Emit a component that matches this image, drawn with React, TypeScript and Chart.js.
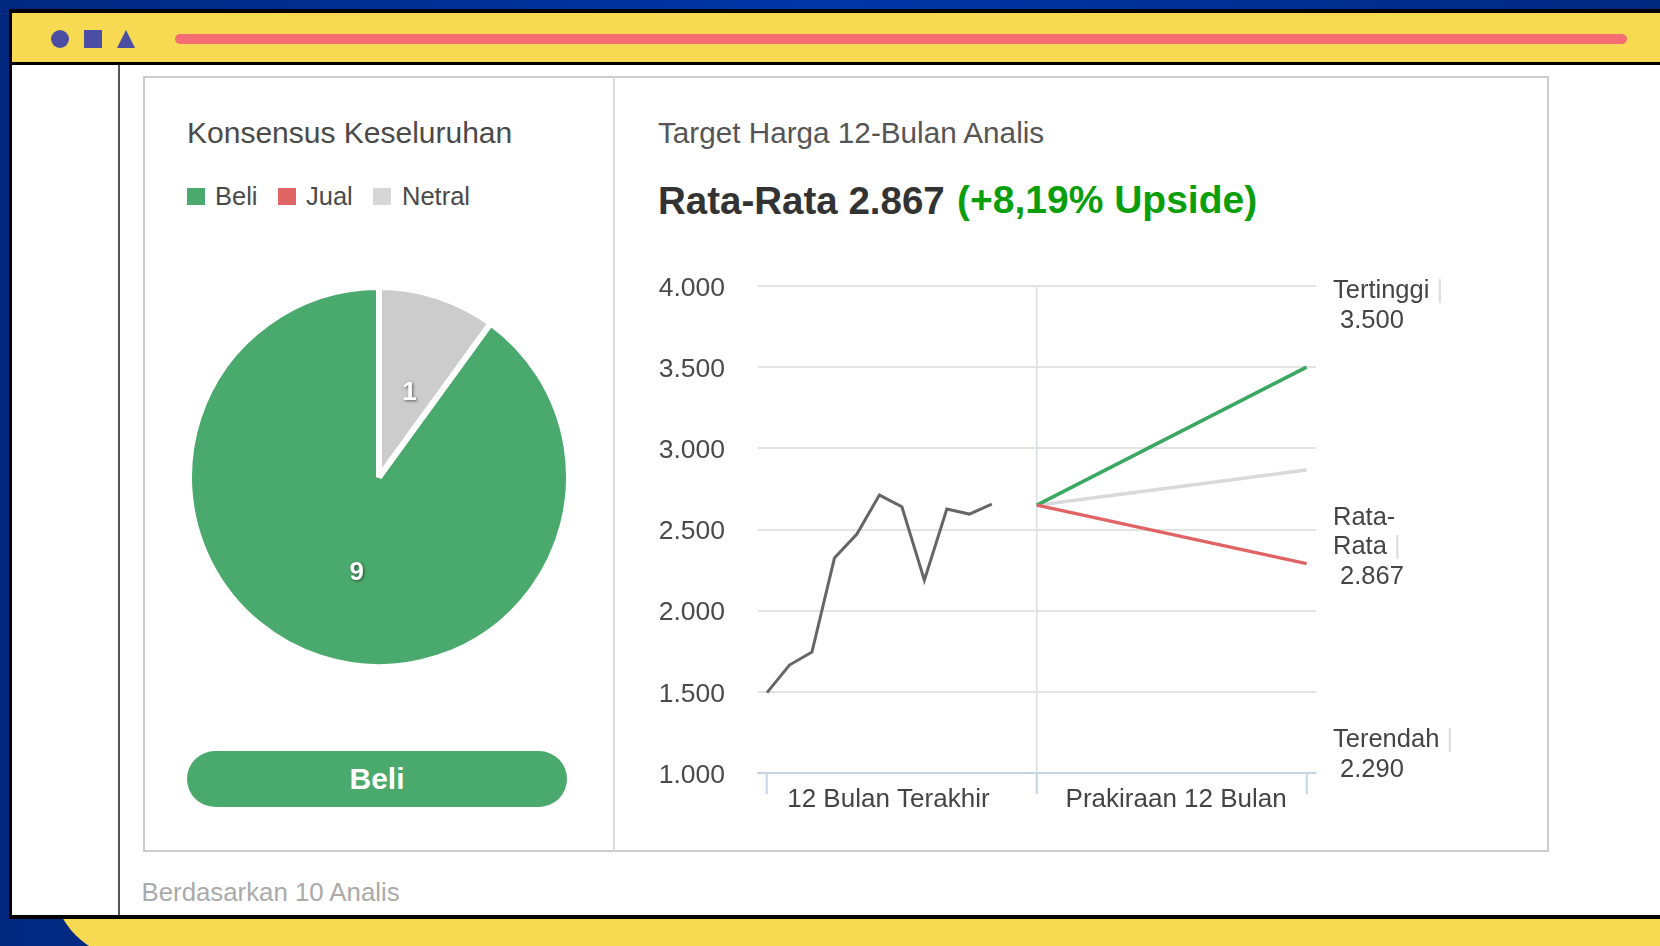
import React, { useEffect, useRef } from "react";
import { Chart, registerables } from "chart.js";

Chart.register(...registerables);

const FONT = '"Liberation Sans", Arial, sans-serif';

// ---- data ----
const consensusCategories = ["Beli", "Jual", "Netral"];
const consensusValues = [9, 0, 1];
const consensusColors = ["#4aa96c", "#e06666", "#cccccc"];

const historyValues = [1495, 1665, 1745, 2324, 2472, 2712, 2640, 2188, 2626, 2595, 2656];
const forecastMonths = [12, 24];
const forecastStart = 2650;
const targetHigh = 3500;
const targetAverage = 2867;
const targetLow = 2290;

const yTicks = [1000, 1500, 2000, 2500, 3000, 3500, 4000];
const xBoundaryTicks = [0, 12, 24];
const periodLabels = ["12 Bulan Terakhir", "Prakiraan 12 Bulan"];
const periodLabelAt = [5.4, 18.2];

const formatId = (v: number) => String(v).replace(/\B(?=(\d{3})+$)/g, ".");

// ---- placement of the surrounding page ----
const abs = (left: number, top: number, extra: any = {}): any => ({
  position: "absolute",
  left,
  top,
  ...extra,
});
const txt = (left: number, cy: number, size: number, color: string, extra: any = {}): any => ({
  position: "absolute",
  left,
  top: cy - size,
  height: size * 2,
  lineHeight: `${size * 2}px`,
  fontSize: size,
  color,
  fontFamily: FONT,
  whiteSpace: "pre",
  ...extra,
});

const legendPlacement = [
  { box: 187, text: 215 },
  { box: 278, text: 306 },
  { box: 373, text: 402 },
];

const pieLabelNudge = [
  [7, 5],
  [0, 0],
  [1, 6],
];

const pieValueLabels = {
  id: "pieValueLabels",
  afterDatasetsDraw(chart: any) {
    const { ctx } = chart;
    const meta = chart.getDatasetMeta(0);
    ctx.save();
    ctx.font = `bold 26px ${FONT}`;
    ctx.textAlign = "center";
    ctx.textBaseline = "middle";
    ctx.fillStyle = "#ffffff";
    ctx.shadowColor = "rgba(0,0,0,0.55)";
    ctx.shadowBlur = 3;
    ctx.shadowOffsetX = 1;
    ctx.shadowOffsetY = 1;
    meta.data.forEach((arc: any, i: number) => {
      const v = consensusValues[i];
      if (!v) return;
      const p = arc.tooltipPosition();
      ctx.fillText(String(v), p.x + pieLabelNudge[i][0], p.y + pieLabelNudge[i][1]);
    });
    ctx.restore();
  },
};

export default function App() {
  const pieRef = useRef<HTMLCanvasElement>(null);
  const lineRef = useRef<HTMLCanvasElement>(null);

  useEffect(() => {
    const pie = new Chart(pieRef.current!, {
      type: "pie",
      data: {
        labels: consensusCategories,
        datasets: [
          {
            data: consensusValues,
            backgroundColor: consensusColors,
            borderColor: "#ffffff",
            borderWidth: 6,
            hoverOffset: 0,
          },
        ],
      },
      options: {
        animation: false,
        responsive: false,
        rotation: 36,
        radius: 190,
        layout: { padding: 0 },
        plugins: { legend: { display: false }, tooltip: { enabled: false } },
      },
      plugins: [pieValueLabels],
    } as any);

    const xy = (xs: number[], ys: number[]) => xs.map((x, i) => ({ x, y: ys[i] }));
    const line = new Chart(lineRef.current!, {
      type: "line",
      data: {
        datasets: [
          {
            label: "Harga",
            data: historyValues.map((y, x) => ({ x, y })),
            borderColor: "#666666",
            borderWidth: 3,
            order: 1,
          },
          {
            label: "Tertinggi",
            data: xy(forecastMonths, [forecastStart, targetHigh]),
            borderColor: "#3aa860",
            borderWidth: 3.5,
            order: 2,
          },
          {
            label: "Terendah",
            data: xy(forecastMonths, [forecastStart, targetLow]),
            borderColor: "#e06464",
            borderWidth: 3.5,
            order: 1,
          },
          {
            label: "Rata-Rata",
            data: xy(forecastMonths, [forecastStart, targetAverage]),
            borderColor: "#d9d9d9",
            borderWidth: 3.5,
            order: 3,
          },
        ],
      },
      options: {
        animation: false,
        responsive: false,
        layout: { padding: { top: 26, right: 24, left: 0, bottom: 0 } },
        elements: { point: { radius: 0 }, line: { tension: 0 } },
        plugins: { legend: { display: false }, tooltip: { enabled: false } },
        scales: {
          x: {
            type: "linear",
            min: -0.4,
            max: 24.42,
            afterFit: (s: any) => {
              s.height = 47;
            },
            afterBuildTicks: (s: any) => {
              s.ticks = [...xBoundaryTicks, ...periodLabelAt]
                .sort((a, b) => a - b)
                .map((value) => ({ value }));
            },
            border: { color: "#c5d5e6", width: 2 },
            grid: {
              tickLength: 21,
              tickWidth: 2,
              lineWidth: 1.5,
              color: (c: any) => (c.tick && c.tick.value === 12 ? "#d8dde2" : "rgba(0,0,0,0)"),
              tickColor: (c: any) =>
                c.tick && xBoundaryTicks.includes(c.tick.value) ? "#c5d5e6" : "rgba(0,0,0,0)",
            },
            ticks: {
              autoSkip: false,
              maxRotation: 0,
              minRotation: 0,
              padding: -10,
              color: "#444444",
              font: { family: FONT, size: 26 },
              callback: (v: number) => {
                const i = periodLabelAt.indexOf(v);
                return i >= 0 ? periodLabels[i] : "";
              },
            },
          },
          y: {
            type: "linear",
            min: 1000,
            max: 4000,
            afterFit: (s: any) => {
              s.width = 118;
            },
            afterBuildTicks: (s: any) => {
              s.ticks = yTicks.map((value) => ({ value }));
            },
            border: { display: false },
            grid: {
              drawTicks: true,
              tickLength: 30,
              tickColor: "rgba(0,0,0,0)",
              lineWidth: 2,
              color: (c: any) => (c.tick && c.tick.value === 1000 ? "rgba(0,0,0,0)" : "#e3e3e3"),
            },
            ticks: {
              padding: 3,
              labelOffset: 2.5,
              color: "#4a4a4a",
              font: { family: FONT, size: 26.5 },
              callback: (v: number) => formatId(v),
            },
          },
        },
      },
    } as any);

    return () => {
      pie.destroy();
      line.destroy();
    };
  }, []);

  const sideLabels = [
    { name: ["Tertinggi"], value: targetHigh, nameY: [289], valueY: 319 },
    { name: ["Rata-", "Rata"], value: targetAverage, nameY: [516, 545], valueY: 575 },
    { name: ["Terendah"], value: targetLow, nameY: [738], valueY: 768 },
  ];

  return (
    <div
      style={{
        position: "fixed",
        left: 0,
        top: 0,
        width: 1660,
        height: 946,
        overflow: "hidden",
        background: "linear-gradient(90deg,#00287f 0%,#0036a8 50%,#00287f 100%)",
      }}
    >
      <div style={abs(0, 0, { width: 1660, height: 946, filter: "blur(0.6px)" })}>
        {/* bottom yellow shape */}
        <div
          style={abs(52.5, 800, {
            width: 1700,
            height: 157.5,
            background: "#f8da52",
            borderBottomLeftRadius: 77.5,
          })}
        />
        {/* window */}
        <div style={abs(9, 9, { width: 1700, height: 910, background: "#000" })} />
        <div style={abs(12, 13, { width: 1700, height: 49, background: "#f8da52" })} />
        <div style={abs(12, 65, { width: 1700, height: 850, background: "#fff" })} />
        <div style={abs(118, 65, { width: 2, height: 850, background: "#555" })} />

        {/* window buttons */}
        <div style={abs(50.5, 30, { width: 18, height: 18, borderRadius: 9, background: "#4a4fa3" })} />
        <div style={abs(84, 30, { width: 18, height: 18, background: "#4a4fa3" })} />
        <div
          style={abs(117, 30, {
            width: 0,
            height: 0,
            borderLeft: "9px solid transparent",
            borderRight: "9px solid transparent",
            borderBottom: "18px solid #4a4fa3",
          })}
        />
        <div style={abs(175, 34, { width: 1452, height: 10, borderRadius: 5, background: "#f46d72" })} />

        {/* panel */}
        <div
          style={abs(143, 76, {
            width: 1406,
            height: 776,
            boxSizing: "border-box",
            border: "2px solid #cccccc",
          })}
        />
        <div style={abs(613, 77, { width: 2, height: 774, background: "#dddddd" })} />

        <div style={txt(187, 133, 30, "#4a4a4a")}>Konsensus Keseluruhan</div>
        {consensusCategories.map((c, i) => (
          <React.Fragment key={c}>
            <div
              style={abs(legendPlacement[i].box, 188, {
                width: 18,
                height: 17,
                background: i === 2 ? "#d6d6d6" : consensusColors[i],
              })}
            />
            <div style={txt(legendPlacement[i].text, 196, 25.5, "#4a4a4a")}>{c}</div>
          </React.Fragment>
        ))}

        <canvas ref={pieRef} width={400} height={400} style={abs(179, 277, { width: 400, height: 400 })} />

        <div
          style={abs(187, 751, {
            width: 380,
            height: 56,
            borderRadius: 28,
            background: "#4aa96c",
            color: "#fff",
            fontFamily: FONT,
            fontWeight: 700,
            fontSize: 30,
            lineHeight: "56px",
            textAlign: "center",
          })}
        >
          Beli
        </div>

        <div style={txt(141.5, 893, 25.8, "#aaaaaa")}>Berdasarkan 10 Analis</div>

        <div style={txt(658, 133, 29.7, "#555555")}>Target Harga 12-Bulan Analis</div>
        <div style={txt(658, 200, 38.5, "#333333", { fontWeight: 700 })}>
          {`Rata-Rata ${formatId(targetAverage)}`}
        </div>
        <div style={txt(957, 200, 39, "#0a9e0a", { fontWeight: 700 })}>(+8,19% Upside)</div>

        <canvas ref={lineRef} width={700} height={560} style={abs(640, 260, { width: 700, height: 560 })} />

        {sideLabels.map((s) => (
          <React.Fragment key={s.name[0]}>
            {s.name.map((n, i) => (
              <div key={n} style={txt(1333, s.nameY[i], 25.5, "#444444")}>
                {n}
                {i === s.name.length - 1 ? <span style={{ color: "#dddddd" }}> |</span> : null}
              </div>
            ))}
            <div style={txt(1340, s.valueY, 25.5, "#444444")}>{formatId(s.value)}</div>
          </React.Fragment>
        ))}
      </div>
    </div>
  );
}
